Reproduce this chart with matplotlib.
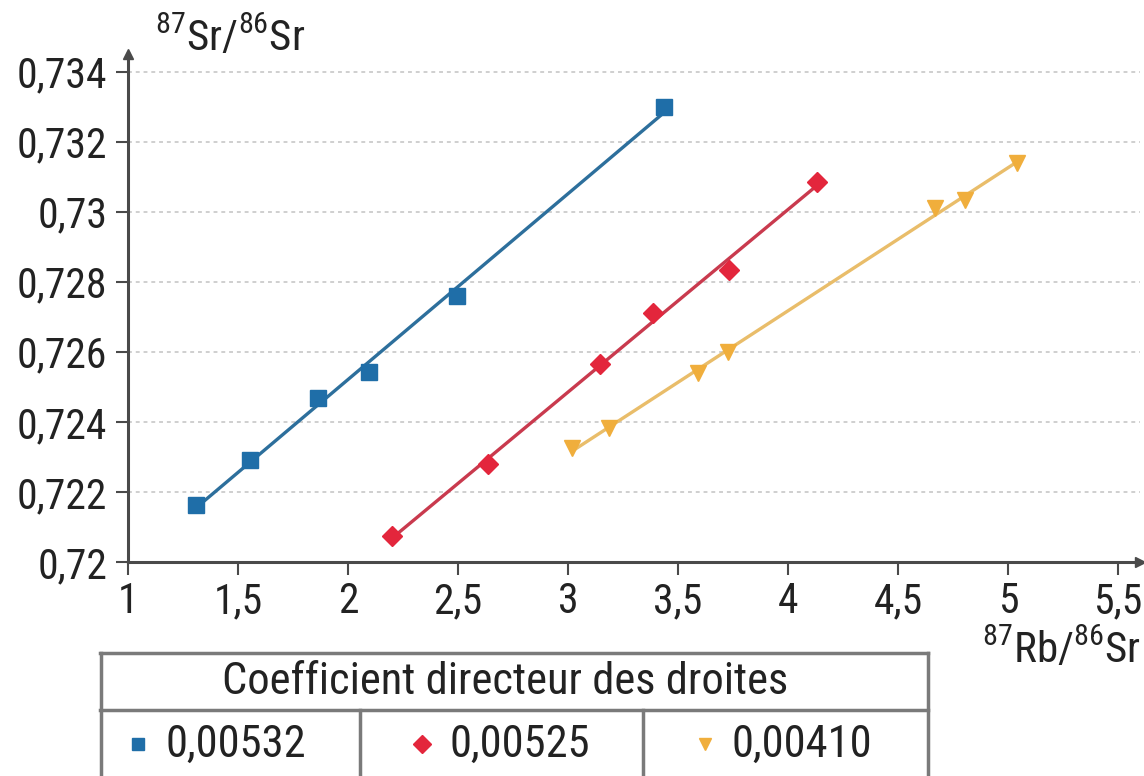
import numpy as np
import matplotlib
matplotlib.use("Agg")
import matplotlib.pyplot as plt

plt.rcParams['font.family'] = ['Roboto Condensed', 'DejaVu Sans']
plt.rcParams['mathtext.fontset'] = 'custom'
plt.rcParams['mathtext.rm'] = 'Roboto Condensed'
plt.rcParams['mathtext.default'] = 'rm'

# Data
blue_x = [1.31, 1.555, 1.865, 2.095, 2.495, 3.436]
blue_y = [0.72163, 0.72291, 0.72469, 0.72543, 0.72760, 0.73300]
red_x = [2.20, 2.636, 3.145, 3.386, 3.732, 4.132]
red_y = [0.72074, 0.72280, 0.72566, 0.72711, 0.72834, 0.73086]
yel_x = [3.018, 3.186, 3.591, 3.727, 4.668, 4.805, 5.041]
yel_y = [0.72326, 0.72383, 0.72540, 0.72600, 0.73011, 0.73034, 0.73140]

x_ticks = [1, 1.5, 2, 2.5, 3, 3.5, 4, 4.5, 5, 5.5]
x_labels = ['1', '1,5', '2', '2,5', '3', '3,5', '4', '4,5', '5', '5,5']
y_ticks = [0.720, 0.722, 0.724, 0.726, 0.728, 0.730, 0.732, 0.734]
y_labels = ['0,72', '0,722', '0,724', '0,726', '0,728', '0,73', '0,732', '0,734']

table_header = 'Coefficient directeur des droites'
slopes = ['0,00532', '0,00525', '0,00410']

series = [
    (blue_x, blue_y, 's', '#1f6ea8', '#2d6f9c'),
    (red_x, red_y, 'D', '#e3263c', '#c93a4e'),
    (yel_x, yel_y, 'v', '#f0ae3c', '#e9bd6a'),
]

W, H = 1144, 776
fig = plt.figure(figsize=(W / 100, H / 100), dpi=100)
ax = fig.add_axes([128 / W, 1 - 562 / H, 1012 / W, (562 - 54) / H])
ax.set_xlim(1, 5.6)
ax.set_ylim(0.72, 0.7345)

for gy in y_ticks[1:]:
    ax.axhline(gy, color='#cfcfcf', lw=1.4, ls=(0, (2, 2)), zorder=0)

for xs, ys, mk, mc, lc in series:
    xs = np.array(xs)
    ys = np.array(ys)
    p = np.polyfit(xs, ys, 1)
    xl = np.array([xs.min(), xs.max()])
    ax.plot(xl, np.polyval(p, xl), color=lc, lw=2.4, zorder=2)
    ms = 11 if mk != 'D' else 10
    ax.plot(xs, ys, ls='none', marker=mk, color=mc, ms=ms, zorder=3)

for s in ['top', 'right']:
    ax.spines[s].set_visible(False)
for s in ['left', 'bottom']:
    ax.spines[s].set_color('#4a4a4a')
    ax.spines[s].set_linewidth(2.2)

ax.set_xticks(x_ticks)
ax.set_xticklabels(x_labels)
ax.set_yticks(y_ticks)
ax.set_yticklabels(y_labels)
ax.tick_params(axis='both', colors='#4a4a4a', labelcolor='#222222',
               labelsize=30, length=9, width=1.5, direction='out')
ax.tick_params(axis='x', pad=5)
ax.tick_params(axis='y', pad=6)

# arrows
ax.plot(1, 0.7345, marker='^', color='#4a4a4a', ms=7, clip_on=False)
ax.plot(5.6, 0.72, marker='>', color='#4a4a4a', ms=7, clip_on=False)

fig.text(155 / W, 1 - 38 / H, r'$^{87}$Sr/$^{86}$Sr', fontsize=31, color='#222222',
         va='center', ha='left')
fig.text(1141 / W, 1 - 650 / H, r'$^{87}$Rb/$^{86}$Sr', fontsize=31, color='#222222',
         va='center', ha='right')

# table
tab = fig.add_axes([100 / W, 0, 830 / W, (H - 653) / H])
tab.set_xlim(0, 830)
tab.set_ylim(0, H - 653)
tab.axis('off')
top = H - 653
mid = top - 57
bc = '#7a7a7a'
tab.plot([0, 828], [top, top], color=bc, lw=2.5, clip_on=False)
tab.plot([0, 828], [mid, mid], color=bc, lw=2.5, clip_on=False)
tab.plot([1, 1], [0, top], color=bc, lw=2.5, clip_on=False)
tab.plot([828, 828], [0, top], color=bc, lw=2.5, clip_on=False)
tab.plot([260, 260], [0, mid], color=bc, lw=2.5, clip_on=False)
tab.plot([543, 543], [0, mid], color=bc, lw=2.5, clip_on=False)
tab.text(405, (top + mid) / 2, table_header, fontsize=32, color='#222222',
         ha='center', va='center')
marker_x = [38, 322, 605]
for i, (xs, ys, mk, mc, lc) in enumerate(series):
    tab.plot(marker_x[i], 32, marker=mk, color=mc, ms=9, clip_on=False)
    tab.text(marker_x[i] + 27, 31, slopes[i], fontsize=32, color='#222222',
             ha='left', va='center')

fig.savefig('out.png', dpi=100, facecolor='white')
